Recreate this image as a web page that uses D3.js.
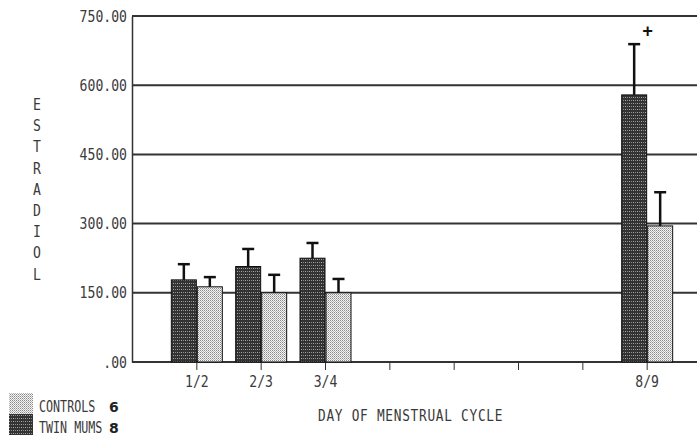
<!DOCTYPE html>
<html>
<head>
<meta charset="utf-8">
<script src="https://cdn.jsdelivr.net/npm/d3@7"></script>
<style>
  body { margin: 0; background: #fff; }
  text { font-family: "DejaVu Sans Mono", "Liberation Mono", monospace; fill: #3a3a3a; }
</style>
</head>
<body>
<div id="chart"></div>
<script>
// day positions along the cycle axis (1 = "1/2" ... 8 = "8/9")
var tickDays = [1, 2, 3, 4, 5, 6, 7, 8];
var tickLabels = ["1/2", "2/3", "3/4", "", "", "", "", "8/9"];

// measured days
var days = [1, 2, 3, 8];
var twinMums = [178, 207, 225, 579];
var twinMumsErr = [212, 245, 258, 689];
var controls = [163, 150, 150, 295];
var controlsErr = [184, 189, 180, 368];

var yTicks = [0, 150, 300, 450, 600, 750];
var yTitle = "ESTRADIOL".split("");

var config = {
  "width": 697,
  "height": 439,
  "left": 132,
  "right": 711,
  "top": 16,
  "bottom": 362,
  "barWidth": 25,
  "squeeze": 0.82
}

var svg = d3.select("#chart")
  .append("svg")
  .attr("width", config.width)
  .attr("height", config.height);

// narrow, tall plotter-style lettering: scale x only, keep anchor in place
function squeeze(sel, k) {
  k = k || config.squeeze;
  sel.each(function() {
    var t = d3.select(this);
    var tx = +t.attr("x") || 0;
    var ty = +t.attr("y") || 0;
    t.attr("x", 0).attr("y", 0)
      .attr("transform", "translate(" + tx + "," + ty + ") scale(" + k + ",1)");
  });
}

// fill patterns, dark for twin mums and light stipple for controls
var defs = svg.append("defs");
var dark = defs.append("pattern")
  .attr("id", "darkFill")
  .attr("width", 4).attr("height", 3)
  .attr("patternUnits", "userSpaceOnUse");
dark.append("rect").attr("width", 4).attr("height", 3).attr("fill", "#333");
dark.append("rect").attr("x", 1).attr("y", 1).attr("width", 1).attr("height", 1).attr("fill", "#aaa");
dark.append("rect").attr("x", 3).attr("y", 1).attr("width", 1).attr("height", 1).attr("fill", "#888");

var light = defs.append("pattern")
  .attr("id", "lightFill")
  .attr("width", 2).attr("height", 2)
  .attr("patternUnits", "userSpaceOnUse");
light.append("rect").attr("width", 2).attr("height", 2).attr("fill", "#f4f4f4");
light.append("rect").attr("x", 0).attr("y", 0).attr("width", 1).attr("height", 1).attr("fill", "#8a8a8a");
light.append("rect").attr("x", 1).attr("y", 1).attr("width", 1).attr("height", 1).attr("fill", "#b5b5b5");

var x = d3.scaleLinear().domain([0, 9]).range([config.left, config.right]);
var y = d3.scaleLinear().domain([0, 750]).range([config.bottom, config.top]);

// horizontal gridlines
svg.append("g")
  .selectAll("line")
  .data(yTicks)
  .enter()
  .append("line")
  .attr("x1", config.left)
  .attr("x2", config.right)
  .attr("y1", function(d) { return y(d); })
  .attr("y2", function(d) { return y(d); })
  .style("stroke", "#333")
  .style("stroke-width", 2);

// y axis
var yAxis = svg.append("g")
  .attr("transform", "translate(" + config.left + ",0)")
  .call(d3.axisLeft(y).tickValues(yTicks).tickSize(0).tickPadding(5)
    .tickFormat(function(d) { return d === 0 ? ".00" : d3.format(".2f")(d); }));
yAxis.select(".domain").style("stroke", "#333").style("stroke-width", 1.5);
yAxis.selectAll("text")
  .style("font-size", "16px")
  .attr("font-family", null)
  .style("fill", "#3a3a3a")
  .call(squeeze);

// x axis
var xAxis = svg.append("g")
  .attr("transform", "translate(0," + config.bottom + ")")
  .call(d3.axisBottom(x).tickValues(tickDays).tickSize(8).tickPadding(6)
    .tickFormat(function(d, i) { return tickLabels[i]; }));
xAxis.select(".domain").remove();
xAxis.selectAll("line").style("stroke", "#333");
xAxis.selectAll("text")
  .style("font-size", "16px")
  .attr("font-family", null)
  .style("fill", "#3a3a3a")
  .call(squeeze);

// bars
var bars = svg.append("g");
bars.selectAll(".twin")
  .data(days)
  .enter()
  .append("rect")
  .attr("x", function(d) { return x(d) - config.barWidth; })
  .attr("y", function(d, i) { return y(twinMums[i]); })
  .attr("width", config.barWidth)
  .attr("height", function(d, i) { return y(0) - y(twinMums[i]); })
  .attr("fill", "url(#darkFill)")
  .style("stroke", "#111")
  .style("stroke-width", 1);

bars.selectAll(".ctrl")
  .data(days)
  .enter()
  .append("rect")
  .attr("x", function(d) { return x(d) + 1; })
  .attr("y", function(d, i) { return y(controls[i]); })
  .attr("width", config.barWidth)
  .attr("height", function(d, i) { return y(0) - y(controls[i]); })
  .attr("fill", "url(#lightFill)")
  .style("stroke", "#111")
  .style("stroke-width", 1);

// error bars (upper only)
function errorBars(values, errs, offset) {
  var g = svg.append("g");
  days.forEach(function(d, i) {
    var cx = x(d) + offset;
    g.append("line")
      .attr("x1", cx).attr("x2", cx)
      .attr("y1", y(values[i])).attr("y2", y(errs[i]))
      .style("stroke", "#111").style("stroke-width", 2.5);
    g.append("line")
      .attr("x1", cx - 6).attr("x2", cx + 6)
      .attr("y1", y(errs[i])).attr("y2", y(errs[i]))
      .style("stroke", "#111").style("stroke-width", 2.5);
  });
}
errorBars(twinMums, twinMumsErr, -config.barWidth / 2);
errorBars(controls, controlsErr, config.barWidth / 2 + 1);

// significance marker
svg.append("text")
  .attr("x", x(8) + 1)
  .attr("y", y(718))
  .attr("text-anchor", "middle")
  .attr("dy", ".35em")
  .style("font-size", "17px")
  .style("font-weight", "bold")
  .style("fill", "#111")
  .text("+");

// y title, one letter per line
svg.append("g")
  .selectAll("text")
  .data(yTitle)
  .enter()
  .append("text")
  .attr("x", 37)
  .attr("y", function(d, i) { return 110 + i * 21.2; })
  .attr("text-anchor", "middle")
  .style("font-size", "16px")
  .style("fill", "#3a3a3a")
  .text(function(d) { return d; })
  .call(squeeze);

// x title
svg.append("text")
  .attr("x", 318)
  .attr("y", 421)
  .style("font-size", "16px")
  .style("letter-spacing", "0.9px")
  .text("DAY OF MENSTRUAL CYCLE")
  .call(squeeze, 0.8);

// legend
var legend = [
  {"name": "CONTROLS", "n": "6", "fill": "url(#lightFill)"},
  {"name": "TWIN MUMS", "n": "8", "fill": "url(#darkFill)"}
];
var lg = svg.append("g");
legend.forEach(function(item, i) {
  var ly = 393 + i * 21;
  lg.append("rect")
    .attr("x", 9).attr("y", ly)
    .attr("width", 24).attr("height", 21)
    .attr("fill", item.fill);
  lg.append("text")
    .attr("x", 39).attr("y", ly + 19)
    .style("font-size", "15px")
    .text(item.name)
    .call(squeeze, 0.78);
  lg.append("text")
    .attr("x", 109).attr("y", ly + 19)
    .style("font-family", "'DejaVu Sans', sans-serif")
    .style("font-size", "14px")
    .style("font-weight", "bold")
    .style("fill", "#222")
    .text(item.n);
});
</script>
</body>
</html>
